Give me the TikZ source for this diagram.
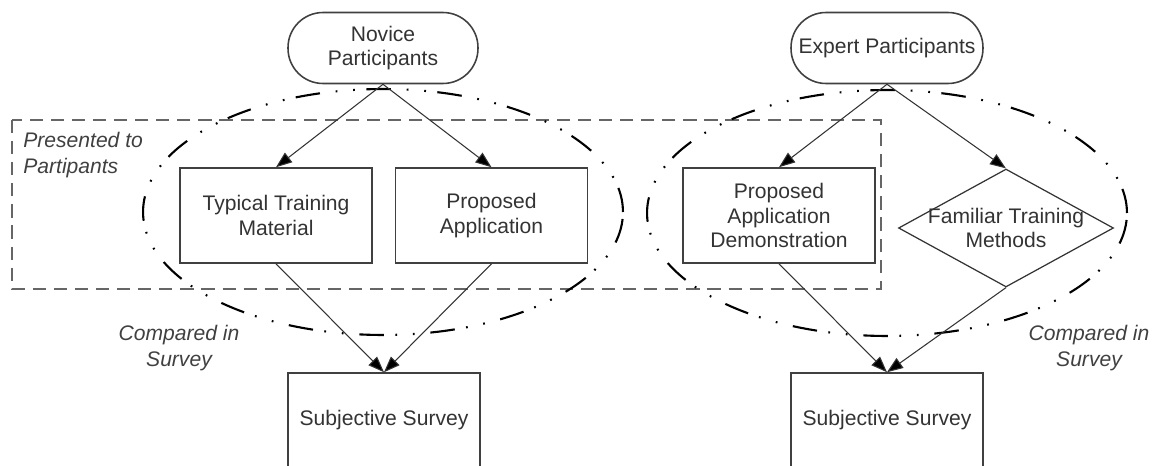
\documentclass[tikz,border=0pt]{standalone}
\usepackage{fontspec}
\setmainfont{Liberation Sans}
\usetikzlibrary{arrows.meta,shapes.geometric}
\tikzset{
  party/.style={draw=black!75, line width=0.9pt, rounded corners=0.7cm, minimum height=1.42cm, align=center, text=black!80},
  box/.style={draw=black!75, line width=0.9pt, minimum width=3.84cm, minimum height=1.9cm, align=center, text=black!80},
  decision/.style={diamond, draw=black!80, line width=0.7pt, minimum width=4.3cm, minimum height=2.36cm, inner sep=0pt},
  note/.style={font=\fontsize{12}{14.5}\selectfont\itshape, text=black!75, inner sep=0pt},
  flow/.style={draw=black!80, line width=0.6pt, -{Triangle[length=0.32cm,width=0.24cm,fill=black]}},
  compared/.style={draw=black, line width=1.2pt, dash pattern=on 14pt off 6.5pt on 1pt off 9pt on 1pt off 9pt},
}
\begin{document}
\begin{tikzpicture}[x=0.02cm, y=-0.02cm, font=\fontsize{12}{13.8}\selectfont]
\useasboundingbox (0,0) rectangle (1156,466);
% presented area
\draw[draw=black!60, line width=1.1pt, dash pattern=on 7.5pt off 4.5pt] (12,120) rectangle (881,289);
\node[note, anchor=west, align=left] (presented) at (23,155) {Presented to\\Partipants};
% groups compared in survey
\draw[compared] (383,212) ellipse (4.8cm and 2.46cm);
\draw[compared] (887,213) ellipse (4.8cm and 2.46cm);
% novice side
\node[party, minimum width=3.8cm] (novice) at (383,48) {Novice\\Participants};
\node[box] (typical) at (276,215.5) {Typical Training\\Material};
\node[box] (proposed) at (491.5,215.5) {Proposed\\Application};
\node[box] (survey1) at (384,420.5) {Subjective Survey};
% expert side
\node[party, minimum width=3.84cm] (expert) at (887,48) {Expert Participants};
\node[box] (demo) at (779,215.5) {Proposed\\Application\\Demonstration};
\node[decision, label={[align=center, text=black!80]center:Familiar Training\\Methods}] (familiar) at (1006,228) {};
\node[box] (survey2) at (887,420.5) {Subjective Survey};
\node[note, align=center] (compared1) at (179,348) {Compared in\\Survey};
\node[note, align=center] (compared2) at (1089,348) {Compared in\\Survey};
\path[flow] (novice.south) -- (typical.north);
\path[flow] (novice.south) -- (proposed.north);
\path[flow] (typical.south) -- (survey1.north);
\path[flow] (proposed.south) -- (survey1.north);
\path[flow] (expert.south) -- (demo.north);
\path[flow] (expert.south) -- (familiar.north);
\path[flow] (demo.south) -- (survey2.north);
\path[flow] (familiar.south) -- (survey2.north);
\end{tikzpicture}
\end{document}
